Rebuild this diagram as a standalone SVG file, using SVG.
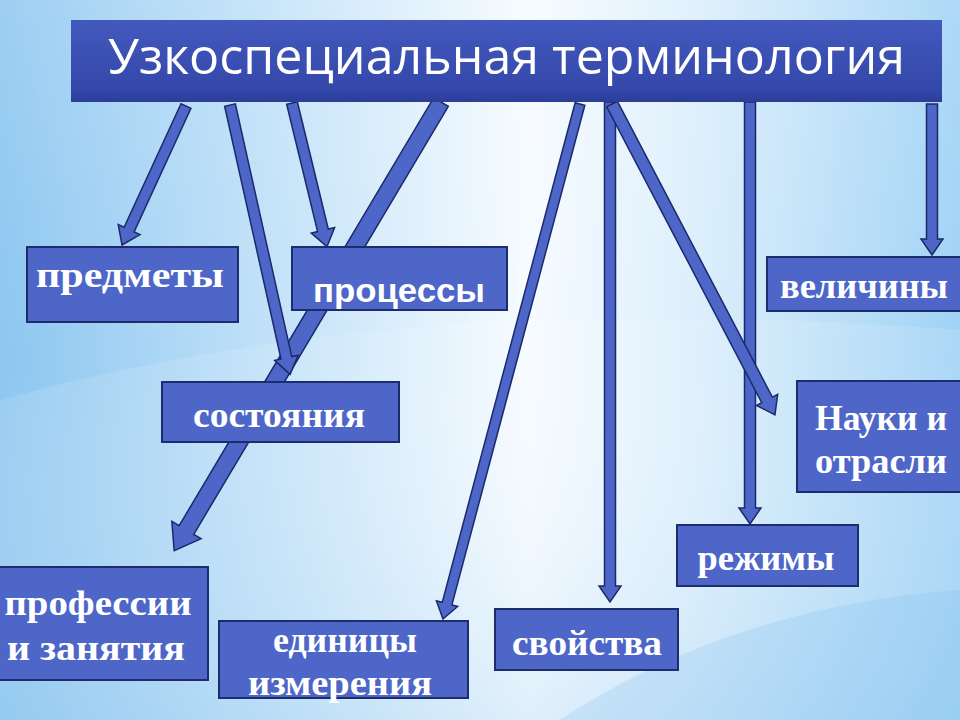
<svg xmlns="http://www.w3.org/2000/svg" width="960" height="720" viewBox="0 0 960 720">
<defs>
<linearGradient id="bg" x1="0" y1="0" x2="1" y2="0">
<stop offset="0" stop-color="#8cc6f0"/>
<stop offset="0.3" stop-color="#c4e3f9"/>
<stop offset="0.55" stop-color="#f6fbff"/>
<stop offset="0.72" stop-color="#dcefFC"/>
<stop offset="1" stop-color="#9fd2f5"/>
</linearGradient>
<linearGradient id="bgv" x1="0" y1="0" x2="0" y2="1">
<stop offset="0" stop-color="#ffffff" stop-opacity="0.15"/>
<stop offset="0.5" stop-color="#ffffff" stop-opacity="0"/>
<stop offset="1" stop-color="#6fb6ea" stop-opacity="0.2"/>
</linearGradient>
<linearGradient id="title" x1="0" y1="0" x2="0" y2="1">
<stop offset="0" stop-color="#4459be"/>
<stop offset="0.85" stop-color="#3448aa"/>
<stop offset="1" stop-color="#2b3d96"/>
</linearGradient>
<style>
.box{fill:#4d66c8;stroke:#1d2c6c;stroke-width:2}
.arr{fill:#4d66c8;stroke:#1a2a6a;stroke-width:1.5;stroke-linejoin:miter}
.t{font-family:"Liberation Serif","Times New Roman",serif;font-weight:bold;font-size:36px;fill:#ffffff;text-anchor:middle}
.s{font-family:"Liberation Sans",Arial,sans-serif;font-weight:bold;font-size:34px;fill:#ffffff;text-anchor:middle}
.h{font-family:"Open Sans","Noto Sans",sans-serif;font-size:50px;fill:#ffffff}
</style>
</defs>
<rect x="0" y="0" width="960" height="720" fill="url(#bg)"/>
<rect x="0" y="0" width="960" height="720" fill="url(#bgv)"/>
<path d="M0,400 C250,330 550,300 960,330 L960,720 L0,720 Z" fill="#ffffff" opacity="0.12"/>
<path d="M560,720 C680,640 820,600 960,590 L960,720 Z" fill="#7fc0ee" opacity="0.25"/>

<g id="connectors">
<polygon class="arr" transform="translate(441,102) rotate(120.74)" points="0,-8.5 498,-8.5 498,-17 522,0 498,17 498,8.5 0,8.5"/>
<polygon class="arr" transform="translate(186,106) rotate(114.72)" points="0,-5.5 136,-5.5 136,-12 153,0 136,12 136,5.5 0,5.5"/>
<polygon class="arr" transform="translate(230,105) rotate(77.43)" points="0,-5.5 259,-5.5 259,-12 276,0 259,12 259,5.5 0,5.5"/>
<polygon class="arr" transform="translate(292,103) rotate(76.34)" points="0,-5.5 131,-5.5 131,-12 148,0 131,12 131,5.5 0,5.5"/>
<polygon class="arr" transform="translate(580,104) rotate(104.90)" points="0,-5 517,-5 517,-11 533,0 517,11 517,5 0,5"/>
<polygon class="arr" transform="translate(610,102) rotate(90)" points="0,-5.5 484,-5.5 484,-11 500,0 484,11 484,5.5 0,5.5"/>
<polygon class="arr" transform="translate(750,102) rotate(90)" points="0,-5.5 406,-5.5 406,-11 422,0 406,11 406,5.5 0,5.5"/>
<polygon class="arr" transform="translate(612,104) rotate(62.34)" points="0,-6 334,-6 334,-12 351,0 334,12 334,6 0,6"/>
<polygon class="arr" transform="translate(932,104) rotate(90)" points="0,-5.5 135,-5.5 135,-11 151,0 135,11 135,5.5 0,5.5"/>
</g>

<g id="title-node">
<rect x="71" y="20" width="871" height="82" fill="url(#title)"/>
<text class="h" x="108" y="74" textLength="797" lengthAdjust="spacingAndGlyphs">Узкоспециальная терминология</text>
</g>

<g id="node-predmety">
<rect class="box" x="27" y="247" width="211" height="75"/>
<text class="t" x="130" y="287" textLength="188" lengthAdjust="spacingAndGlyphs">предметы</text>
</g>
<g id="node-processy">
<rect class="box" x="292" y="247" width="215" height="63"/>
<text class="s" x="399" y="302" textLength="172" lengthAdjust="spacingAndGlyphs">процессы</text>
</g>
<g id="node-sostoyaniya">
<rect class="box" x="162" y="382" width="237" height="60"/>
<text class="t" x="279" y="427" textLength="172" lengthAdjust="spacingAndGlyphs">состояния</text>
</g>
<g id="node-velichiny">
<rect class="box" x="767" y="257" width="194" height="54"/>
<text class="t" x="864" y="298" textLength="168" lengthAdjust="spacingAndGlyphs">величины</text>
</g>
<g id="node-nauki">
<rect class="box" x="797" y="381" width="164" height="111"/>
<text class="t" x="881" y="430" textLength="132" lengthAdjust="spacingAndGlyphs">Науки и</text>
<text class="t" x="881" y="473" textLength="132" lengthAdjust="spacingAndGlyphs">отрасли</text>
</g>
<g id="node-rezhimy">
<rect class="box" x="677" y="525" width="181" height="61"/>
<text class="t" x="766" y="570" textLength="137" lengthAdjust="spacingAndGlyphs">режимы</text>
</g>
<g id="node-svoystva">
<rect class="box" x="495" y="609" width="183" height="61"/>
<text class="t" x="587" y="655" textLength="150" lengthAdjust="spacingAndGlyphs">свойства</text>
</g>
<g id="node-professii">
<rect class="box" x="-2" y="567" width="210" height="113"/>
<text class="t" x="98" y="615" textLength="187" lengthAdjust="spacingAndGlyphs">профессии</text>
<text class="t" x="96" y="660" textLength="178" lengthAdjust="spacingAndGlyphs">и занятия</text>
</g>
<g id="node-edinicy">
<rect class="box" x="219" y="621" width="249" height="77"/>
<text class="t" x="345" y="652" textLength="144" lengthAdjust="spacingAndGlyphs">единицы</text>
<text class="t" x="340" y="695" textLength="184" lengthAdjust="spacingAndGlyphs">измерения</text>
</g>
</svg>
